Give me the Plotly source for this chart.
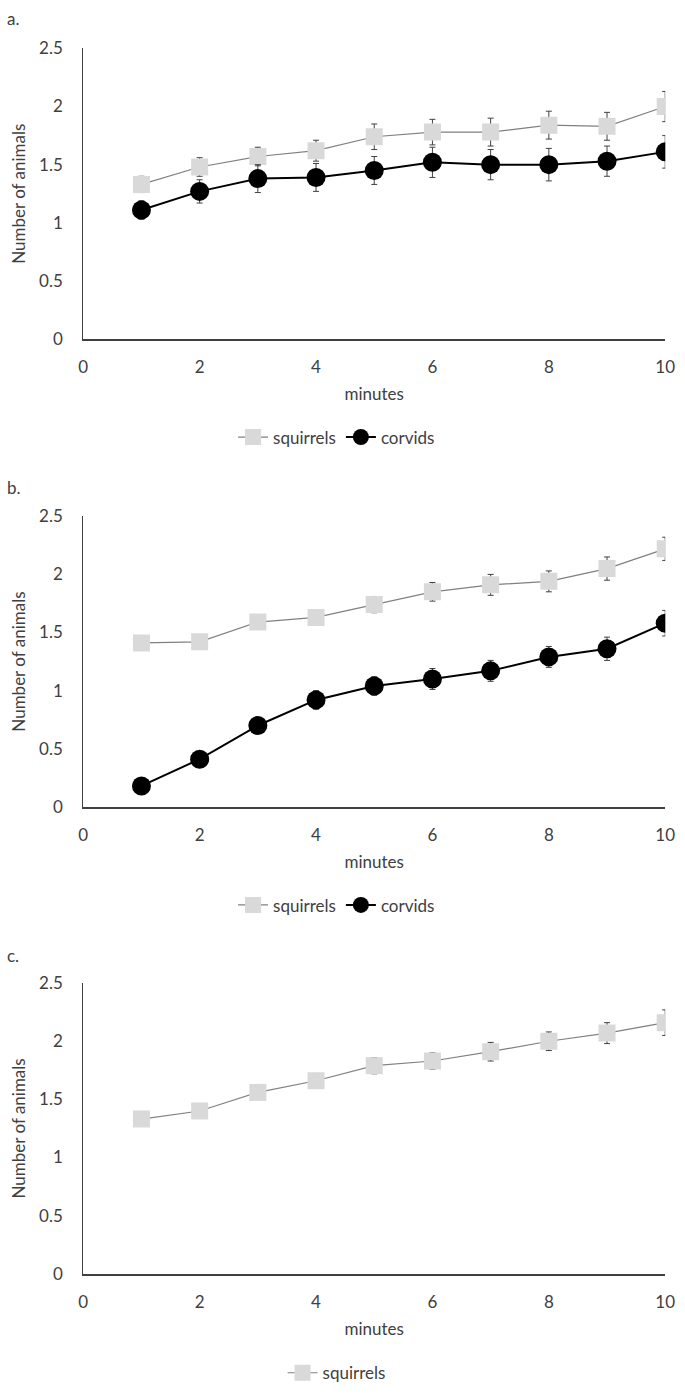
import plotly.graph_objects as go

minutes = [1, 2, 3, 4, 5, 6, 7, 8, 9, 10]

# Panel a
sq_a = [1.33, 1.48, 1.57, 1.62, 1.74, 1.78, 1.78, 1.84, 1.83, 2.00]
sq_a_err = [0.07, 0.08, 0.08, 0.09, 0.11, 0.11, 0.12, 0.12, 0.12, 0.13]
cv_a = [1.11, 1.27, 1.38, 1.39, 1.45, 1.52, 1.50, 1.50, 1.53, 1.61]
cv_a_err = [0.08, 0.10, 0.12, 0.12, 0.12, 0.13, 0.13, 0.14, 0.13, 0.14]

# Panel b
sq_b = [1.41, 1.42, 1.59, 1.63, 1.74, 1.85, 1.91, 1.94, 2.05, 2.22]
sq_b_err = [0.02, 0.02, 0.05, 0.06, 0.07, 0.08, 0.09, 0.09, 0.10, 0.10]
cv_b = [0.18, 0.41, 0.70, 0.92, 1.04, 1.10, 1.17, 1.29, 1.36, 1.58]
cv_b_err = [0.02, 0.03, 0.07, 0.08, 0.08, 0.09, 0.09, 0.09, 0.10, 0.11]

# Panel c
sq_c = [1.33, 1.40, 1.56, 1.66, 1.79, 1.83, 1.91, 2.00, 2.07, 2.16]
sq_c_err = [0.02, 0.02, 0.03, 0.06, 0.07, 0.07, 0.08, 0.08, 0.09, 0.11]

x_ticks = [0, 2, 4, 6, 8, 10]
y_ticks = [0, 0.5, 1, 1.5, 2, 2.5]
y_tick_text = ["0", "0.5", "1", "1.5", "2", "2.5"]

FONT = "Lato, 'Open Sans', sans-serif"
TXT = "#404040"
SQ_FILL = "#d9d9d9"
SQ_LINE = "#808080"
ERR_COL = "#404040"

W, H = 685, 1395


def py(px):
    return 1 - px / H


fig = go.Figure()


def add_squirrels(xa, ya, vals, errs, legend):
    fig.add_trace(go.Scatter(
        x=minutes, y=vals, xaxis=xa, yaxis=ya, name="squirrels", legend=legend,
        mode="lines+markers",
        line=dict(color=SQ_LINE, width=1.2),
        marker=dict(symbol="square", size=17, color=SQ_FILL, line=dict(width=0)),
        error_y=dict(type="data", array=errs, visible=True, color=ERR_COL, thickness=1, width=3),
    ))


def add_corvids(xa, ya, vals, errs, legend):
    fig.add_trace(go.Scatter(
        x=minutes, y=vals, xaxis=xa, yaxis=ya, name="corvids", legend=legend,
        mode="lines+markers",
        line=dict(color="#000000", width=2),
        marker=dict(symbol="circle", size=19, color="#000000", line=dict(width=0)),
        error_y=dict(type="data", array=errs, visible=True, color=ERR_COL, thickness=1, width=3),
    ))


add_squirrels("x", "y", sq_a, sq_a_err, "legend")
add_corvids("x", "y", cv_a, cv_a_err, "legend")
add_squirrels("x2", "y2", sq_b, sq_b_err, "legend2")
add_corvids("x2", "y2", cv_b, cv_b_err, "legend2")
add_squirrels("x3", "y3", sq_c, sq_c_err, "legend3")

panels = [(38, 333), (513, 808), (987, 1282)]
xdom = [80 / W, 675 / W]

axis_font = dict(family=FONT, size=17, color=TXT)

layout = dict(
    width=W, height=H,
    margin=dict(l=0, r=0, t=0, b=0),
    paper_bgcolor="white", plot_bgcolor="white",
    font=dict(family=FONT, color=TXT),
)

for i, (top, bot) in enumerate(panels):
    sfx = "" if i == 0 else str(i + 1)
    layout["xaxis" + sfx] = dict(
        domain=xdom, anchor="y" + sfx, range=[0, 10],
        tickvals=x_ticks, ticks="", showgrid=False, zeroline=False,
        showline=True, linecolor="#404040", linewidth=2,
        tickfont=axis_font, ticklabelstandoff=12,
        title=dict(text="minutes", font=dict(family=FONT, size=17, color=TXT), standoff=12),
    )
    layout["yaxis" + sfx] = dict(
        domain=[py(bot), py(top)], anchor="x" + sfx, range=[0, 2.5],
        tickvals=y_ticks, ticktext=y_tick_text, ticks="", showgrid=False, zeroline=False,
        showline=True, linecolor="#404040", linewidth=1,
        tickfont=axis_font, ticklabelstandoff=16,
        title=dict(text="Number of animals", font=dict(family=FONT, size=17, color=TXT), standoff=9),
    )

leg_common = dict(orientation="h", xanchor="center", yanchor="middle",
                  font=dict(family=FONT, size=17, color=TXT),
                  bgcolor="rgba(0,0,0,0)", itemwidth=30, tracegroupgap=0)
layout["legend"] = dict(x=339 / W, y=py(433), **leg_common)
layout["legend2"] = dict(x=339 / W, y=py(908), **leg_common)
layout["legend3"] = dict(x=339 / W, y=py(1383), **leg_common)

fig.update_layout(**layout)

for txt, ypx in [("a.", 8), ("b.", 484), ("c.", 959)]:
    fig.add_annotation(text=txt, x=0, y=py(ypx), xref="paper", yref="paper",
                       xanchor="left", yanchor="middle", showarrow=False,
                       font=dict(family=FONT, size=17, color=TXT))

fig.write_html("out.html", config={"displayModeBar": False},
               post_script="document.body.style.margin='0';")
